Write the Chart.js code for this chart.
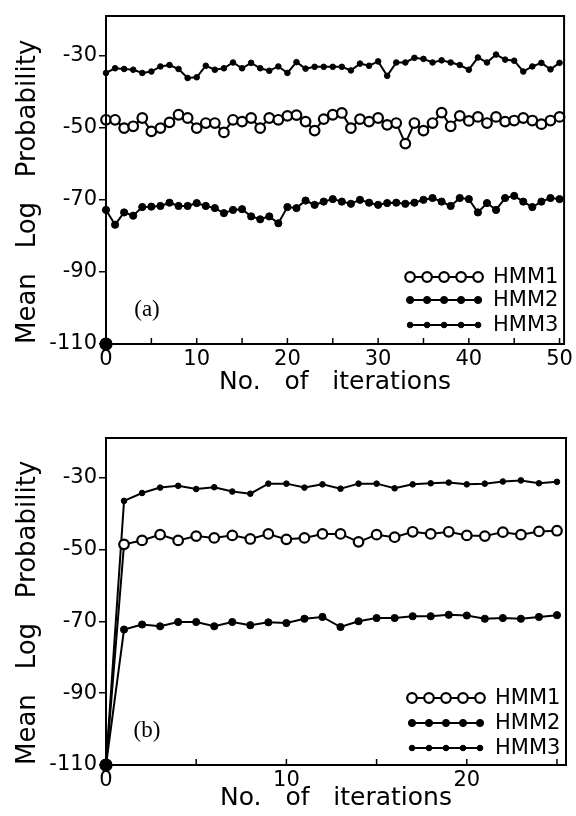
<!DOCTYPE html>
<html><head><meta charset="utf-8">
<script src="https://cdn.jsdelivr.net/npm/chart.js@4.4.0/dist/chart.umd.min.js"></script>
<style>
html,body{margin:0;padding:0;background:#fff;}
#wrap{position:relative;width:576px;height:816px;background:#fff;}
canvas{position:absolute;left:0;}
</style></head><body>
<div id="wrap">
<canvas id="ca" width="576" height="408" style="top:0"></canvas>
<canvas id="cb" width="576" height="408" style="top:408px"></canvas>
</div>
<script>
// ---------- data ----------
const startIteration = 0;
const startValue = -110;
const seriesNames = ['HMM1', 'HMM2', 'HMM3'];
const yTickValues = [-110, -90, -70, -50, -30];

// panel (a)
const itersA = [0,1,2,3,4,5,6,7,8,9,10,11,12,13,14,15,16,17,18,19,20,21,22,23,24,25,26,27,28,29,30,31,32,33,34,35,36,37,38,39,40,41,42,43,44,45,46,47,48,49,50];
const hmm1A = [-47.8,-47.8,-50.1,-49.6,-47.3,-51.0,-50.1,-48.5,-46.4,-47.3,-50.1,-48.7,-48.7,-51.3,-47.8,-48.3,-47.3,-50.1,-47.3,-47.8,-46.7,
  -46.5,-48.3,-50.8,-47.6,-46.4,-45.9,-50.1,-47.6,-48.3,-47.3,-49.2,-48.7,-54.4,-48.7,-50.8,-48.7,-45.8,-49.6,-46.7,-48.1,-47.0,-48.7,-47.0,-48.3,-48.0,-47.3,
  -48.0,-49.0,-48.0,-47.0];
const hmm2A = [-72.8,-76.9,-73.5,-74.4,-72.0,-71.9,-71.7,-70.8,-71.7,-71.7,-70.9,-71.7,-72.3,-73.7,-72.8,-72.6,-74.6,-75.4,-74.6,-76.5,-72.0,
  -72.3,-70.2,-71.4,-70.5,-69.8,-70.5,-71.1,-70.0,-70.8,-71.4,-70.9,-70.8,-71.1,-70.8,-70.0,-69.5,-70.5,-71.7,-69.5,-69.8,-73.5,-70.9,-72.8,-69.5,-68.9,-70.5,
  -72.0,-70.5,-69.5,-69.8];
const hmm3A = [-34.8,-33.5,-33.7,-33.9,-34.8,-34.4,-33.0,-32.6,-33.7,-36.2,-36.0,-32.8,-33.9,-33.5,-31.9,-33.5,-32.0,-33.5,-34.2,-33.0,-34.8,-31.8,-33.6,
  -33.1,-33.1,-33.1,-33.1,-34.1,-32.2,-32.8,-31.6,-35.6,-31.9,-31.9,-30.6,-30.9,-31.9,-31.3,-31.9,-32.6,-33.9,-30.5,-31.9,-29.7,-31.1,-31.4,-34.4,
  -33.0,-32.0,-33.8,-32.0];
const xTicksA = [0,5,10,15,20,25,30,35,40,45,50];

// panel (b)
const itersB = [1,2,3,4,5,6,7,8,9,10,11,12,13,14,15,16,17,18,19,20,21,22,23,24,25];
const hmm1B = [-48.6,-47.5,-45.9,-47.5,-46.3,-46.8,-46.1,-47.1,-45.7,-47.2,-46.8,-45.7,-45.7,-47.9,-45.9,-46.6,-45.1,-45.7,-45.1,-46.1,-46.3,-45.2,-45.9,-45.0,-44.8];
const hmm2B = [-72.3,-70.9,-71.4,-70.2,-70.2,-71.4,-70.2,-71.1,-70.3,-70.5,-69.3,-68.8,-71.6,-70.0,-69.1,-69.1,-68.6,-68.6,-68.2,-68.4,-69.3,-69.1,-69.3,-68.8,-68.3];
const hmm3B = [-36.5,-34.3,-32.8,-32.3,-33.2,-32.7,-33.9,-34.5,-31.7,-31.7,-32.8,-31.9,-33.1,-31.7,-31.7,-33.0,-31.9,-31.6,-31.4,-31.9,-31.7,-31.1,-30.8,-31.6,-31.2];
const xTicksB = [0,5,10,15,20,25];

// ---------- chart ----------
Chart.defaults.font.family = '"DejaVu Sans", sans-serif';
Chart.defaults.color = '#000';

function series(iters, vals) {
  return [{x: startIteration, y: startValue}].concat(iters.map((x, i) => ({x: x, y: vals[i]})));
}

const markerStyles = [
  {r: 4.8, bg: '#fff', bw: 2.2},
  {r: 3.6, bg: '#000', bw: 1},
  {r: 2.8, bg: '#000', bw: 1}
];

function makeDatasets(list) {
  return list.map((d, i) => ({
    label: seriesNames[i],
    data: d,
    borderColor: '#000',
    borderWidth: 2,
    tension: 0,
    clip: 8,
    pointStyle: 'circle',
    pointRadius: ctx => ctx.dataIndex === 0 ? 5.5 : markerStyles[i].r,
    pointBackgroundColor: ctx => ctx.dataIndex === 0 ? '#000' : markerStyles[i].bg,
    pointBorderColor: '#000',
    pointBorderWidth: markerStyles[i].bw
  }));
}

function panelPlugin(tag, legendOffsets) {
  return {
    id: 'panel',
    afterDraw(chart) {
      const {ctx, chartArea: a, scales} = chart;
      const x = scales.x;
      ctx.save();
      ctx.strokeStyle = '#000';
      ctx.lineWidth = 2;
      ctx.strokeRect(a.left, a.top, a.right - a.left, a.bottom - a.top);
      ctx.lineWidth = 1.5;
      x.ticks.forEach(t => {
        const px = x.getPixelForValue(t.value);
        ctx.beginPath(); ctx.moveTo(px, a.bottom); ctx.lineTo(px, a.bottom - 6); ctx.stroke();
      });
      ctx.fillStyle = '#000';
      ctx.font = '23px "Liberation Serif"';
      ctx.textAlign = 'center';
      ctx.textBaseline = 'middle';
      ctx.fillText(tag, a.left + 41, a.bottom - 34);
      // legend
      chart.data.datasets.forEach((ds, i) => {
        const ly = a.bottom + legendOffsets[i];
        const x0 = a.right - 154, x1 = a.right - 86;
        ctx.lineWidth = 2;
        ctx.beginPath(); ctx.moveTo(x0, ly); ctx.lineTo(x1, ly); ctx.stroke();
        const m = markerStyles[i];
        for (let k = 0; k < 5; k++) {
          const mx = x0 + (x1 - x0) * k / 4;
          ctx.beginPath(); ctx.arc(mx, ly, m.r, 0, Math.PI * 2);
          ctx.fillStyle = m.bg; ctx.fill();
          ctx.lineWidth = m.bw; ctx.stroke();
        }
        ctx.fillStyle = '#000';
        ctx.font = '21px "DejaVu Sans"';
        ctx.textAlign = 'left';
        ctx.fillText(ds.label, a.right - 71, ly + 1);
      });
      ctx.restore();
    }
  };
}

function makeChart(id, datasets, xMax, xTicks, padTop, xAxisHeight, xTitlePad, tag, legendOffsets) {
  return new Chart(document.getElementById(id), {
    type: 'line',
    data: {datasets: makeDatasets(datasets)},
    options: {
      responsive: false,
      animation: false,
      devicePixelRatio: 1,
      layout: {padding: {left: 0, right: 10, top: padTop, bottom: 0}},
      plugins: {legend: {display: false}, tooltip: {enabled: false}},
      scales: {
        x: {
          type: 'linear', min: 0, max: xMax,
          afterBuildTicks: s => { s.ticks = xTicks.map(v => ({value: v})); },
          afterFit: s => { s.height = xAxisHeight; },
          grid: {display: false, drawTicks: false},
          border: {display: true, color: '#000', width: 2},
          ticks: {padding: 3, font: {size: 21}, color: '#000', maxRotation: 0,
                  callback: v => (v % 10 === 0 ? String(v) : '')},
          title: {display: true, text: 'No.   of   iterations', font: {size: 25, lineHeight: 1},
                  color: '#000', padding: {top: 0, bottom: xTitlePad}}
        },
        y: {
          type: 'linear', min: -110, max: -19,
          afterBuildTicks: s => { s.ticks = yTickValues.map(v => ({value: v})); },
          afterFit: s => { s.width = 106; },
          grid: {display: true, drawOnChartArea: false, drawTicks: true, tickLength: 7, color: '#000', lineWidth: 1.5},
          border: {display: true, color: '#000', width: 2},
          ticks: {padding: 2, font: {size: 21}, color: '#000', callback: v => String(v)},
          title: {display: true, text: 'Mean   Log   Probability', align: 'start', font: {size: 26, lineHeight: 1},
                  color: '#000', padding: {top: 15, bottom: 0}}
        }
      }
    },
    plugins: [panelPlugin(tag, legendOffsets)]
  });
}

makeChart('ca', [series(itersA, hmm1A), series(itersA, hmm2A), series(itersA, hmm3A)],
  50.5, xTicksA, 16, 64, 13, '(a)', [-67, -44, -19]);
makeChart('cb', [series(itersB, hmm1B), series(itersB, hmm2B), series(itersB, hmm3B)],
  25.5, xTicksB, 30, 51, 5, '(b)', [-67, -42, -17]);
</script>
</body></html>
